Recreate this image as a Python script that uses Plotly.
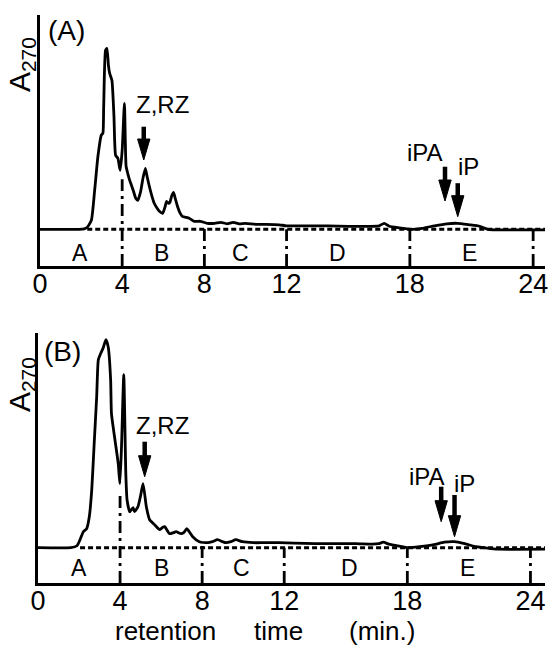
import plotly.graph_objects as go

# ---------------- data ----------------
time_a = [0, 1.9, 2.15, 2.3, 2.5, 2.66, 2.82, 2.98, 3.06, 3.10, 3.19, 3.26, 3.33, 3.39, 3.50, 3.60,
          3.68, 3.79, 3.90, 4.00, 4.11, 4.19, 4.27, 4.35, 4.45, 4.55, 4.66, 4.76, 4.90, 5.02, 5.13,
          5.22, 5.32, 5.45, 5.56, 5.70, 5.81, 5.97, 6.08, 6.16, 6.25, 6.32, 6.42, 6.50, 6.58, 6.69,
          6.80, 6.93, 7.10, 7.26, 7.50, 7.8, 8.14, 8.5, 8.8, 9.1, 9.4, 9.7, 10.0, 10.5, 11.0, 11.65,
          12.0, 13.0, 14.0, 15.0, 16.0, 16.5, 16.75, 17.0, 17.5, 18.1, 18.6, 19.2, 19.8, 20.3, 20.9,
          21.4, 21.8, 22.2, 24.58]
a270_a = [0, 0, 0.005, 0.02, 0.09, 0.39, 0.73, 0.94, 0.96, 1.23, 1.79, 1.81, 1.64, 1.56, 1.49, 1.13,
          0.74, 0.71, 0.59, 0.79, 1.26, 0.63, 0.56, 0.50, 0.44, 0.38, 0.31, 0.29, 0.38, 0.52, 0.61,
          0.52, 0.43, 0.33, 0.26, 0.21, 0.18, 0.16, 0.22, 0.28, 0.26, 0.27, 0.34, 0.37, 0.31, 0.23,
          0.17, 0.13, 0.12, 0.11, 0.08, 0.08, 0.06, 0.06, 0.07, 0.055, 0.07, 0.055, 0.06, 0.05, 0.05, 0.045,
          0.035, 0.035, 0.035, 0.03, 0.03, 0.035, 0.06, 0.03, 0.015, 0.0, 0.01, 0.035, 0.055, 0.06, 0.045,
          0.03, 0.0, -0.005, -0.005]

time_b = [0, 1.6, 1.9, 2.05, 2.21, 2.37, 2.50, 2.62, 2.73, 2.86, 2.94, 3.05, 3.18, 3.31, 3.42, 3.54,
          3.58, 3.75, 3.91, 3.99, 4.07, 4.18, 4.28, 4.34, 4.47, 4.63, 4.71, 4.87, 5.0, 5.12, 5.28,
          5.44, 5.68, 5.93, 6.05, 6.17, 6.41, 6.6, 6.73, 6.97, 7.1, 7.25, 7.4, 7.54, 7.86, 8.27, 8.5,
          8.75, 9.0, 9.15, 9.4, 9.64, 9.96, 10.5, 11.0, 11.74, 12.5, 13.5, 14.5, 15.5, 16.3, 16.6,
          16.83, 17.1, 17.6, 18.04, 18.6, 19.3, 19.8, 20.3, 20.8, 21.35, 21.9, 22.4, 24.72]
a270_b = [0, 0, 0.02, 0.08, 0.16, 0.19, 0.31, 0.58, 1.01, 1.51, 1.88, 1.94, 2.0, 2.08, 2.01, 1.68,
          1.34, 1.08, 0.84, 0.64, 1.01, 1.73, 0.74, 0.48, 0.36, 0.40, 0.36, 0.41, 0.52, 0.64, 0.41,
          0.28, 0.23, 0.18, 0.20, 0.21, 0.14, 0.15, 0.16, 0.14, 0.15, 0.19, 0.15, 0.11, 0.06, 0.05, 0.06,
          0.08, 0.06, 0.05, 0.06, 0.08, 0.06, 0.05, 0.05, 0.05, 0.045, 0.04, 0.04, 0.04, 0.035, 0.04,
          0.055, 0.035, 0.015, 0.0, 0.01, 0.03, 0.055, 0.06, 0.04, 0.01, -0.005, -0.015, -0.015]

tick_vals = [0, 4, 8, 12, 18, 24]
tick_text = ["0", "4", "8", "12", "18", "24"]
fraction_bounds = [4, 8, 12, 18, 24]
fraction_names = ["A", "B", "C", "D", "E"]
fraction_centers_a = [1.94, 5.89, 9.76, 14.5, 20.9]
fraction_centers_b = [2.0, 6.0, 9.92, 15.2, 20.95]

# marker labels: (text, x, y)
labels_a = [("Z,RZ", 5.97, 1.25), ("iPA", 18.74, 0.77), ("iP", 20.84, 0.63)]
labels_b = [("Z,RZ", 6.09, 1.22), ("iPA", 18.96, 0.71), ("iP", 20.78, 0.645)]
# arrows: (x, y_top, y_tip)
arrows_a = [(5.05, 1.026, 0.693), (19.71, 0.626, 0.283), (20.33, 0.461, 0.126)]
arrows_b = [(5.2, 1.06, 0.71), (19.65, 0.61, 0.26), (20.3, 0.527, 0.11)]

# ---------------- layout geometry ----------------
W, H = 551, 652
ML, MR, MT, MB = 38, 3, 15, 69
PW, PH = W - ML - MR, H - MT - MB
FONT = "Liberation Sans"


def paper(X, Y):
    return (X - ML) / PW, (H - MB - Y) / PH


fig = go.Figure()
fig.add_trace(go.Scatter(x=time_a, y=a270_a, mode="lines", xaxis="x", yaxis="y",
                         line=dict(color="black", width=2.8, shape="spline", smoothing=0.5),
                         showlegend=False, hoverinfo="skip"))
fig.add_trace(go.Scatter(x=time_b, y=a270_b, mode="lines", xaxis="x2", yaxis="y2",
                         line=dict(color="black", width=2.8, shape="spline", smoothing=0.5),
                         showlegend=False, hoverinfo="skip"))

shapes = []
annotations = []

panels = [
    dict(xr="x", yr="y", t=time_a, yb=-0.367, base_start=2.3, drop4=0.5, drop8=0.03,
         centers=fraction_centers_a, letter_y=-0.237, labels=labels_a, arrows=arrows_a,
         tag="(A)", tagpos=(66.7, 31), ylab=(21, 65)),
    dict(xr="x2", yr="y2", t=time_b, yb=-0.353, base_start=2.05, drop4=0.55, drop8=0.03,
         centers=fraction_centers_b, letter_y=-0.203, labels=labels_b, arrows=arrows_b,
         tag="(B)", tagpos=(62.7, 351.7), ylab=(21, 385)),
]

for p in panels:
    xr, yr = p["xr"], p["yr"]
    # dashed baseline
    shapes.append(dict(type="line", xref=xr, yref=yr, x0=p["base_start"], x1=p["t"][-1], y0=0, y1=0,
                       line=dict(color="black", width=3, dash="5px,3px"), layer="below"))
    # fraction boundaries (dash-dot)
    for b in fraction_bounds:
        top = p["drop4"] if b == 4 else (p["drop8"] if b == 8 else 0)
        shapes.append(dict(type="line", xref=xr, yref=yr, x0=b, x1=b, y0=p["yb"], y1=top,
                           line=dict(color="black", width=2.8, dash="12px,5px,3px,5px")))
    for name, c in zip(fraction_names, p["centers"]):
        annotations.append(dict(xref=xr, yref=yr, x=c, y=p["letter_y"], text=name, showarrow=False,
                                xanchor="center", yanchor="middle",
                                font=dict(family=FONT, size=23, color="black")))
    for txt, lx, ly in p["labels"]:
        annotations.append(dict(xref=xr, yref=yr, x=lx, y=ly, text=txt, showarrow=False,
                                xanchor="center", yanchor="middle",
                                font=dict(family=FONT, size=24, color="black")))
    for ax_, ytop, ytip in p["arrows"]:
        hl, hw = 0.21, 0.3
        shapes.append(dict(type="line", xref=xr, yref=yr, x0=ax_, x1=ax_, y0=ytop, y1=ytip + hl * 0.9,
                           line=dict(color="black", width=4.5)))
        shapes.append(dict(type="path", xref=xr, yref=yr,
                           path=f"M {ax_ - hw},{ytip + hl} L {ax_ + hw},{ytip + hl} L {ax_},{ytip} Z",
                           fillcolor="black", line=dict(color="black", width=1)))
    tx, ty = paper(*p["tagpos"])
    annotations.append(dict(xref="paper", yref="paper", x=tx, y=ty, text=p["tag"], showarrow=False,
                            xanchor="center", yanchor="middle",
                            font=dict(family=FONT, size=28, color="black")))
    lx, ly = paper(*p["ylab"])
    annotations.append(dict(xref="paper", yref="paper", x=lx, y=ly, text="A<sub>270</sub>",
                            showarrow=False, textangle=-90, xanchor="center", yanchor="middle",
                            font=dict(family=FONT, size=30, color="black")))

for word, X in [("retention", 166.5), ("time", 279.5), ("(min.)", 384)]:
    px_, py_ = paper(X, 631)
    annotations.append(dict(xref="paper", yref="paper", x=px_, y=py_, text=word, showarrow=False,
                            xanchor="center", yanchor="middle",
                            font=dict(family=FONT, size=26, color="black")))

xa_common = dict(showline=True, linewidth=3, linecolor="black", mirror=False, showgrid=False,
                 zeroline=False, ticks="", ticklen=0, tickvals=tick_vals, ticktext=tick_text,
                 tickfont=dict(family=FONT, size=27, color="black"), ticklabelstandoff=-8,
                 ticklabeloverflow="allow", fixedrange=True)
ya_common = dict(showline=True, linewidth=3, linecolor="black", mirror=False, showgrid=False,
                 zeroline=False, ticks="", showticklabels=False, fixedrange=True)

dA_bot = (H - MB - 266) / PH
dB_top = (H - MB - 333) / PH

fig.update_layout(
    width=W, height=H,
    margin=dict(l=ML, r=MR, t=MT, b=MB),
    paper_bgcolor="white", plot_bgcolor="white",
    xaxis=dict(**xa_common, domain=[(40 - ML) / PW, 1], range=[0, (548 - 40) / 20.67], anchor="y"),
    yaxis=dict(**ya_common, domain=[dA_bot, 1], range=[-0.367, 2.143], anchor="x"),
    xaxis2=dict(**xa_common, domain=[0, 1], range=[0, (548 - ML) / 20.64], anchor="y2"),
    yaxis2=dict(**ya_common, domain=[0, dB_top], range=[-0.353, 2.147], anchor="x2"),
    shapes=shapes,
    annotations=annotations,
    showlegend=False,
)

fig.write_html("out.html")
